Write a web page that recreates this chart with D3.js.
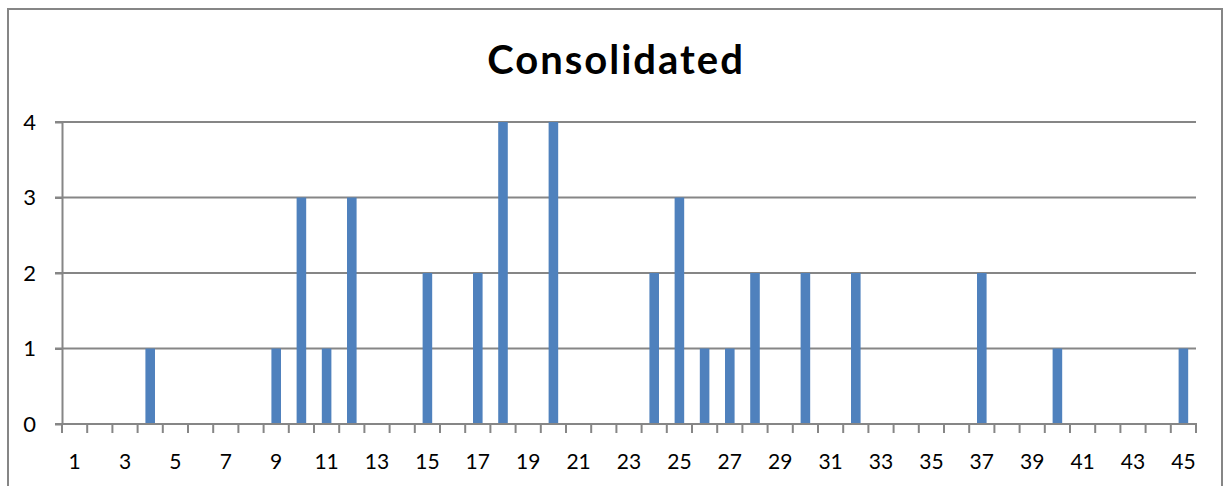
<!DOCTYPE html>
<html>
<head>
<meta charset="utf-8">
<script src="https://cdn.jsdelivr.net/npm/d3@7"></script>
<style>
  html, body { margin: 0; padding: 0; background: #fff; }
  svg { display: block; }
</style>
</head>
<body>
<svg id="chart" width="1225" height="486"></svg>
<script>
// Categories 1..45 and the count for each one
const categories = [1,2,3,4,5,6,7,8,9,10,11,12,13,14,15,16,17,18,19,20,21,22,23,24,25,26,27,28,29,30,31,32,33,34,35,36,37,38,39,40,41,42,43,44,45];
const counts     = [0,0,0,1,0,0,0,0,1,3,1,3,0,0,2,0,2,4,0,4,0,0,0,2,3,1,1,2,0,2,0,2,0,0,0,0,2,0,0,1,0,0,0,0,1];
const yTicks = [0, 1, 2, 3, 4];
const xTickLabels = categories.filter(c => c % 2 === 1);
const title = "Consolidated";

const svg = d3.select("#chart");
const font = "Lato, 'Open Sans', sans-serif";
const gridColor = "#868686";

// chart frame
svg.append("rect")
  .attr("x", 8).attr("y", 9)
  .attr("width", 1214).attr("height", 490)
  .attr("fill", "#fff")
  .attr("stroke", gridColor).attr("stroke-width", 2);

const plot = { left: 62, right: 1196, top: 122, bottom: 424 };

const x = d3.scaleBand()
  .domain(categories)
  .range([plot.left, plot.right])
  .paddingInner(0.62)
  .paddingOuter(0.31);

const y = d3.scaleLinear()
  .domain([0, 4])
  .range([plot.bottom, plot.top]);

// horizontal gridlines
svg.append("g")
  .selectAll("line")
  .data(yTicks.filter(t => t > 0))
  .join("line")
  .attr("x1", plot.left - 7).attr("x2", plot.right)
  .attr("y1", d => y(d)).attr("y2", d => y(d))
  .attr("stroke", gridColor).attr("stroke-width", 2);

// bars
svg.append("g")
  .selectAll("rect")
  .data(categories.map((c, i) => ({ c, v: counts[i] })).filter(d => d.v > 0))
  .join("rect")
  .attr("x", d => x(d.c))
  .attr("y", d => y(d.v))
  .attr("width", x.bandwidth())
  .attr("height", d => y(0) - y(d.v))
  .attr("fill", "#4f81bd");

// y axis
const yAxis = svg.append("g")
  .attr("transform", `translate(${plot.left},0)`)
  .call(d3.axisLeft(y).tickValues(yTicks).tickFormat(d3.format("d"))
    .tickSize(7).tickPadding(19).tickSizeOuter(0));
yAxis.select(".domain").attr("stroke", gridColor).attr("stroke-width", 2);
yAxis.selectAll(".tick line").attr("stroke", gridColor).attr("stroke-width", 2);
yAxis.selectAll(".tick text")
  .attr("font-family", font).attr("font-size", 22).attr("fill", "#000");

// x axis: ticks on category boundaries, labels on odd categories
const xAxisG = svg.append("g").attr("transform", `translate(0,${plot.bottom})`);
xAxisG.append("line")
  .attr("x1", plot.left - 7).attr("x2", plot.right + 1)
  .attr("y1", 0).attr("y2", 0)
  .attr("stroke", gridColor).attr("stroke-width", 2);
const step = x.step();
const boundaries = d3.range(categories.length + 1).map(i => plot.left + i * step);
xAxisG.selectAll("line.tk")
  .data(boundaries)
  .join("line")
  .attr("class", "tk")
  .attr("x1", d => d).attr("x2", d => d)
  .attr("y1", 0).attr("y2", 9)
  .attr("stroke", gridColor).attr("stroke-width", 2);
xAxisG.selectAll("text")
  .data(xTickLabels)
  .join("text")
  .attr("x", d => x(d) + x.bandwidth() / 2)
  .attr("y", 45)
  .attr("text-anchor", "middle")
  .attr("font-family", font).attr("font-size", 21).attr("fill", "#000")
  .text(d => d);

// title
svg.append("text")
  .attr("x", 616).attr("y", 74)
  .attr("text-anchor", "middle")
  .attr("font-family", font).attr("font-weight", "bold")
  .attr("font-size", 40).attr("letter-spacing", 2).attr("fill", "#000")
  .text(title);
</script>
</body>
</html>
